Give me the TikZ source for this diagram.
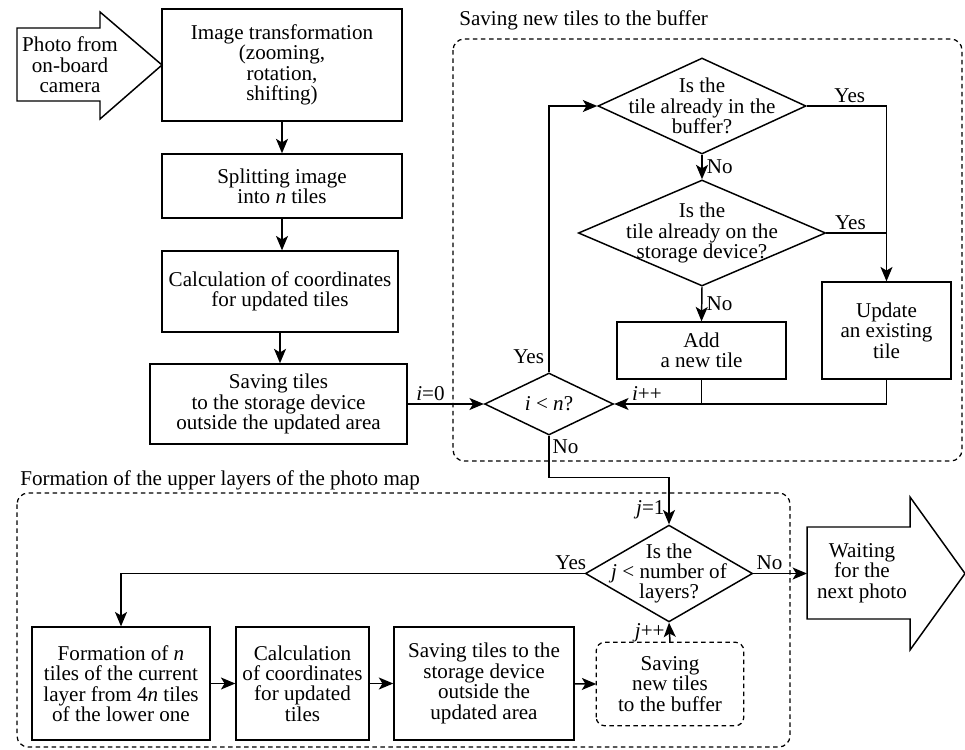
\documentclass[tikz,border=0pt]{standalone}
\usepackage{fontspec}
\setmainfont{Liberation Serif}
\usetikzlibrary{shapes.geometric, arrows.meta, calc}

\begin{document}
\begin{tikzpicture}[
      x=0.025cm, y=-0.025cm,
      every node/.style={font=\fontsize{15}{14.5}\selectfont},
      block/.style={draw, rectangle, line width=1.05pt, inner sep=0pt, align=center},
      decision/.style={draw, diamond, line width=1.05pt, inner sep=0pt},
      group/.style={draw, line width=0.9pt, dash pattern=on 3.2pt off 2.5pt, rounded corners=8pt},
      bigarrow/.style={draw, line width=1.05pt, line join=miter},
      line/.style={draw, -{Stealth[length=3.6mm, width=3mm, inset=0.9mm]}, line width=1.05pt},
      plain/.style={draw, line width=1.05pt},
      lbl/.style={inner sep=0pt}
  ]
      \useasboundingbox (0,0) rectangle (965,749);

      % Dashed groups
      \draw [group] (453,39) rectangle (962,461);
      \node [lbl, anchor=west] (gbuf) at (459,20) {Saving new tiles to the buffer};
      \draw [group] (17,493) rectangle (790,747);
      \node [lbl, anchor=west] (gform) at (20,480) {Formation of the upper layers of the photo map};

      % Left: input photo
      \draw [bigarrow] (17,28) -- (100,28) -- (100,12) -- (162,65) -- (100,119) -- (100,101) -- (17,101) -- cycle;
      \node [align=center] (photo) at (70,65) {Photo from\\on-board\\camera};

      % Main column
      \node [block, minimum width=6cm, minimum height=2.8cm] (trans) at (282,65) {Image transformation\\(zooming,\\rotation,\\shifting)};
      \node [block, minimum width=6cm, minimum height=1.6cm] (split) at (282,186) {Splitting image\\into \textit{n} tiles};
      \node [block, minimum width=5.9cm, minimum height=2.02cm] (coord) at (280,291.5) {Calculation of coordinates\\for updated tiles};
      \node [block, minimum width=6.42cm, minimum height=2cm] (save) at (278.5,404) {Saving tiles\\to the storage device\\outside the updated area};

      % Buffer loop
      \node [decision, minimum width=3.22cm, minimum height=1.55cm, label={center:{\textit{i} < \textit{n}?}}] (loopi) at (549,404) {};
      \node [decision, minimum width=5.2cm, minimum height=2.4cm, label={[align=center]center:{Is the\\tile already in the\\buffer?}}] (inbuf) at (702,106) {};
      \node [decision, minimum width=6.18cm, minimum height=2.65cm, label={[align=center]center:{Is the\\tile already on the\\storage device?}}] (ondev) at (702,233) {};
      \node [block, minimum width=4.22cm, minimum height=1.42cm] (add) at (701.5,350.5) {Add\\a new tile};
      \node [block, minimum width=3.22cm, minimum height=2.42cm] (upd) at (886.5,330.5) {Update\\an existing\\tile};

      % Upper layers
      \node [decision, minimum width=4.18cm, minimum height=2.42cm, label={[align=center]center:{Is the\\\textit{j} < number of\\layers?}}] (loopj) at (669,573.5) {};
      \node [block, minimum width=4.45cm, minimum height=2.82cm] (form) at (121,683.5) {Formation of \textit{n}\\tiles of the current\\layer from 4\textit{n} tiles\\of the lower one};
      \node [block, minimum width=3.32cm, minimum height=2.82cm] (coord2) at (302.5,683.5) {Calculation\\of coordinates\\for updated\\tiles};
      \node [block, minimum width=4.5cm, minimum height=2.82cm] (save2) at (484,683.5) {Saving tiles to the\\storage device\\outside the\\updated area};
      \node [block, minimum width=3.65cm, minimum height=2.05cm, draw=none] (buf2) at (670,684) {Saving\\new tiles\\to the buffer};
      \draw [group, rounded corners=6pt] (buf2.south west) rectangle (buf2.north east);

      % Right: next photo
      \draw [bigarrow] (807,527) -- (910,527) -- (910,497) -- (965,573.5) -- (910,650) -- (910,619) -- (807,619) -- cycle;
      \node [align=center] (wait) at (862,573) {Waiting\\for the\\next photo};

      % Connections
      \path [line] (trans) -- (split);
      \path [line] (split.south) -- (split.south |- coord.north);
      \path [line] (coord) -- (coord |- save.north);
      \path [line] (save.east) -- node[lbl, above=2pt, pos=0.3] (izero) {\textit{i}=0} (loopi.west);
      \path [line] (loopi.north) |- node[lbl, pos=0.03, left=3pt] (yesi) {Yes} (inbuf.west);
      \path [line] (inbuf.south) -- node[lbl, right=3pt] (noa) {No} (ondev.north);
      \path [line] (ondev.south) -- node[lbl, right=3pt] (nob) {No} (add.north);
      \path [line] (inbuf.east) -| node[lbl, pos=0.27, above=2pt] (yesa) {Yes} (upd.north);
      \path [plain] (ondev.east) -- node[lbl, pos=0.4, above=2pt] (yesb) {Yes} (ondev.east -| upd.north);
      \path [plain] (add.south) -- (add.south |- loopi.east);
      \path [line] (upd.south) |- node[lbl, pos=0.94, above=2pt] (iinc) {\textit{i}++} (loopi.east);
      \path [line] (loopi.south) -- node[lbl, pos=0.25, right=2pt] (noi) {No} ++(0,42) -| (loopj.north);
      \node [lbl, left=3pt] (jone) at ($(loopj.north)+(0,-15)$) {\textit{j}=1};
      \path [line] (loopj.west) -| node[lbl, pos=0.015, above=2pt] (yesj) {Yes} (form.north);
      \path [line] (loopj.east) -- node[lbl, pos=0.3, above=2pt] (noj) {No} (807,573.5);
      \path [line] (form) -- (coord2);
      \path [line] (coord2) -- (save2);
      \path [line] (save2) -- (buf2.west);
      \path [line] (buf2.north) -- node[lbl, left=3pt] (jinc) {\textit{j}++} (loopj.south);
  \end{tikzpicture}
\end{document}
